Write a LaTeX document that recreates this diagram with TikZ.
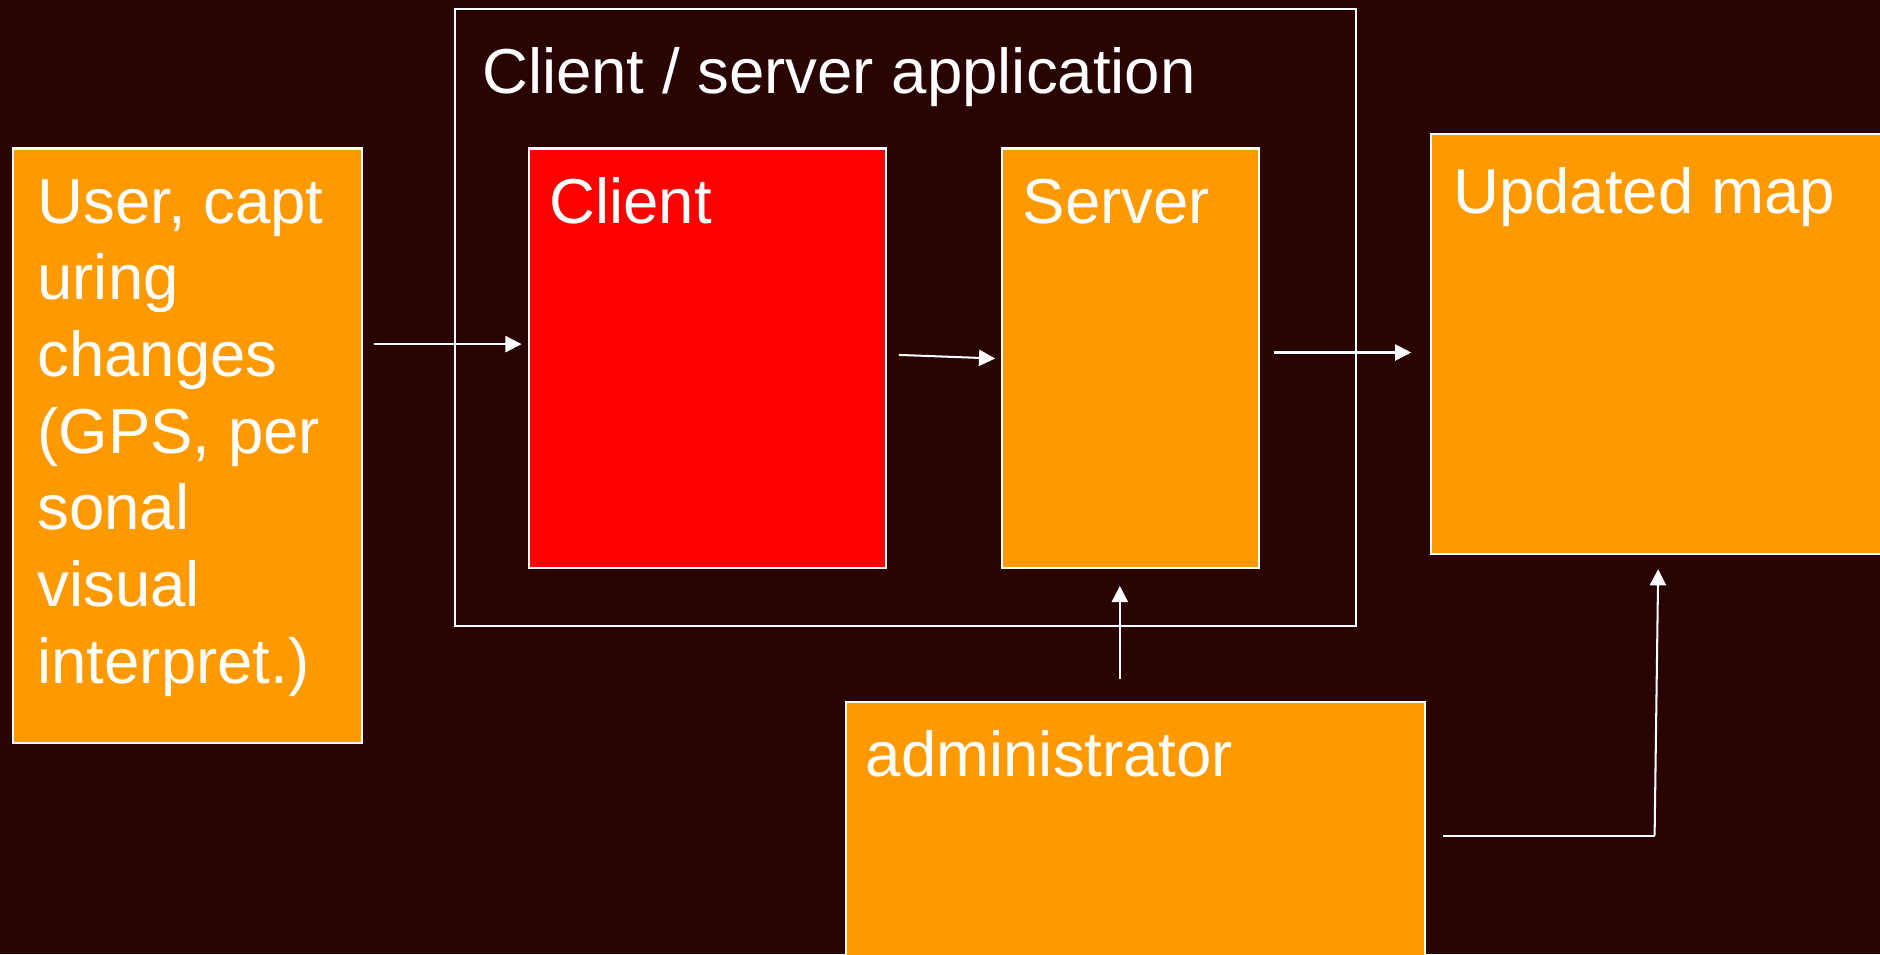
\documentclass[tikz,border=0pt]{standalone}
\usepackage{fontspec}
\setmainfont{Liberation Sans}
\usetikzlibrary{arrows.meta}
\definecolor{bgc}{RGB}{42,3,3}
\definecolor{orng}{RGB}{255,153,0}
\definecolor{rd}{RGB}{255,0,0}
\tikzset{
  box/.style={draw=white, line width=1.7pt, inner sep=0pt, anchor=north west},
  obox/.style={box, fill=orng},
  rbox/.style={box, fill=rd},
  cbox/.style={box},
  txt/.style={text=white, inner sep=0pt, anchor=base west, font=\fontsize{53}{64}\selectfont},
  arr/.style={draw=white, line width=1.7pt, -{Triangle[length=13.5pt,width=13.5pt]}},
  ln/.style={draw=white, line width=1.7pt}
}
\begin{document}
\begin{tikzpicture}[x=1pt,y=-1pt]
\fill[bgc] (0,0) rectangle (1568,796);
\useasboundingbox (0,0) rectangle (1568,796);
% container
\node[cbox, minimum width=751, minimum height=514] (app) at (379,7) {};
\node[txt] (apptxt) at (402,78) {Client / server application};
% boxes
\node[obox, minimum width=291, minimum height=496] (user) at (10,123) {};
\node[txt] (usertxt) at (31,186) {\parbox[t]{270pt}{\raggedright\fontsize{53}{64}\selectfont User, capt\\uring\\changes\\(GPS, per\\sonal\\visual\\interpret.)}};
\node[rbox, minimum width=298, minimum height=350] (client) at (440,123) {};
\node[txt] (clienttxt) at (458,186) {Client};
\node[obox, minimum width=214, minimum height=350] (server) at (835,123) {};
\node[txt] (servertxt) at (853,186) {Server};
\node[obox, minimum width=500, minimum height=350] (map) at (1193,111) {};
\node[txt] (maptxt) at (1212,178) {Updated map};
\node[obox, minimum width=483, minimum height=300] (admin) at (705,585) {};
\node[txt] (admintxt) at (722,648) {administrator};
% connectors
\coordinate (a1s) at ([xshift=9pt]user.east |- 0,287);
\coordinate (a1e) at ([xshift=-5pt]client.west |- 0,287);
\draw[arr] (a1s) -- (a1e);
\coordinate (a2s) at ([xshift=10pt]client.east |- 0,296);
\coordinate (a2e) at ([xshift=-5pt]server.west |- 0,299);
\draw[arr] (a2s) -- (a2e);
\coordinate (a3s) at ([xshift=12pt]server.east |- 0,294);
\coordinate (a3e) at ([xshift=-16pt]map.west |- 0,294);
\draw[arr] (a3s) -- (a3e);
\coordinate (a4s) at ([yshift=19pt]admin.north -| 934,0);
\coordinate (a4e) at ([yshift=-14pt]server.south -| 934,0);
\draw[arr] (a4s) -- (a4e);
\coordinate (a5s) at ([xshift=14pt]admin.east |- 0,697);
\coordinate (a5m) at (1380,697);
\coordinate (a5e) at ([yshift=-12pt]map.south -| 1383,0);
\draw[ln] (a5s) -- (a5m);
\draw[arr] (a5m) -- (a5e);
\end{tikzpicture}
\end{document}
